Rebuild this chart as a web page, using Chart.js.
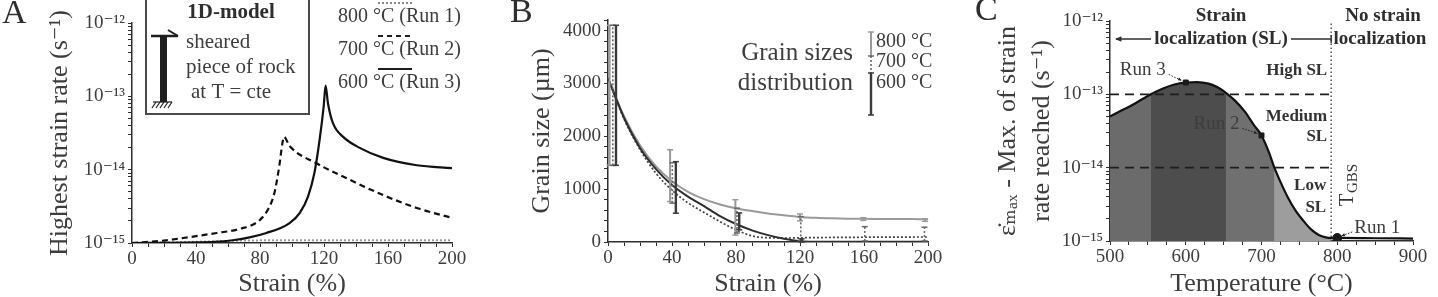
<!DOCTYPE html>
<html>
<head>
<meta charset="utf-8">
<script src="https://cdn.jsdelivr.net/npm/chart.js@4.4.1/dist/chart.umd.min.js"></script>
<style>
  html, body { margin: 0; padding: 0; background: #fff; }
  body { width: 1438px; height: 297px; position: relative; overflow: hidden; }
  canvas { position: absolute; top: 0; }
</style>
</head>
<body>
<canvas id="chartA" width="480" height="297" style="left:0px"></canvas>
<canvas id="chartB" width="470" height="297" style="left:480px"></canvas>
<canvas id="chartC" width="488" height="297" style="left:950px"></canvas>
<script>
// ---- Panel A: highest strain rate vs strain ----
const strainRun1 = [0, 40, 70, 100, 150, 200];
const rateRun1 = [1e-15, 1.04e-15, 1.08e-15, 1.09e-15, 1.09e-15, 1.09e-15];
const strainRun2 = [0, 20, 32, 53, 67, 80, 86, 89, 92, 94, 95, 98.5, 115, 136, 157, 178, 200];
const rateRun2 = [1e-15, 1.08e-15, 1.17e-15, 1.37e-15, 1.55e-15, 2.07e-15, 3.15e-15, 4.8e-15, 1.1e-14, 2.3e-14, 2.8e-14, 2.1e-14, 1.23e-14, 7.3e-15, 4.5e-15, 3e-15, 2.2e-15];
const strainRun3 = [0, 40, 63, 84, 98.5, 105, 110, 114, 117.3, 119.8, 121, 122.5, 125.6, 132, 142, 157, 178, 200];
const rateRun3 = [1e-15, 1.02e-15, 1.09e-15, 1.37e-15, 1.87e-15, 2.6e-15, 4.3e-15, 9e-15, 2.6e-14, 7.3e-14, 1.4e-13, 8e-14, 4.3e-14, 2.8e-14, 2e-14, 1.45e-14, 1.15e-14, 1.05e-14];
const runLabels = ['800 °C (Run 1)', '700 °C (Run 2)', '600 °C (Run 3)'];

// ---- Panel B: grain size vs strain ----
const strainB = [0, 10, 20, 30, 40, 50, 60, 70, 80, 90, 100, 110, 120, 130, 140, 150, 160, 170, 180, 190, 200];
const grain800 = [3100, 2380, 1830, 1430, 1150, 950, 810, 710, 640, 585, 540, 505, 475, 458, 448, 442, 438, 436, 434, 433, 432];
const grain700 = [3100, 2330, 1750, 1300, 980, 740, 560, 385, 230, 115, 80, 75, 80, 83, 86, 88, 90, 92, 93, 94, 95];
const grain600 = [3100, 2350, 1780, 1380, 1080, 860, 680, 490, 340, 220, 130, 60, 15, 5, 4, 4, 4, 4, 4, 4, 4];
// grain size distributions (error bars)
const err800X = [1, 38.8, 79.6, 120, 159.6, 198.2];
const err800Lo = [1450, 765, 130, 400, 410, 390];
const err800Hi = [4100, 1745, 800, 530, 460, 440];
const err700X = [3, 40.2, 80.6, 120.5, 160.5, 197.8];
const err700Lo = [1450, 735, 170, 30, 20, 20];
const err700Hi = [4100, 1500, 640, 480, 290, 280];
const err600X = [5, 42.4, 82, 121];
const err600Lo = [1450, 545, 230, 0];
const err600Hi = [4100, 1520, 550, 60];
const grainLegend = ['800 °C', '700 °C', '600 °C'];

// ---- Panel C: max strain rate vs temperature ----
const tempC = [500, 515, 530, 542, 554, 570, 585, 600, 615, 630, 642, 653, 665, 678, 690, 700, 710, 717, 725, 735, 745, 755, 765, 775, 785, 792, 800, 850, 900];
const maxRateC = [5.0e-14, 6.0e-14, 7.2e-14, 8.5e-14, 1.0e-13, 1.2e-13, 1.36e-13, 1.45e-13, 1.47e-13, 1.4e-13, 1.25e-13, 1.05e-13, 8.2e-14, 5.8e-14, 3.8e-14, 2.75e-14, 1.6e-14, 1.0e-14, 6.4e-15, 3.9e-15, 2.6e-15, 1.9e-15, 1.45e-15, 1.22e-15, 1.12e-15, 1.1e-15, 1.1e-15, 1.09e-15, 1.08e-15];
const bandEdges = [500, 554, 653, 717, 792];
const slThresholds = [1e-13, 1e-14];
const tGbs = 792;
const runTemps = [800, 700, 600];
const runRates = [1.1e-15, 2.75e-14, 1.45e-13];
const runNames = ['Run 1', 'Run 2', 'Run 3'];

// tick labels
const strainTickLabels = ['0', '40', '80', '120', '160', '200'];
const rateTickLabels = ['10⁻¹⁵', '10⁻¹⁴', '10⁻¹³', '10⁻¹²'];
const grainTickLabels = ['0', '1000', '2000', '3000', '4000'];
const tempTickLabels = ['500', '600', '700', '800', '900'];

const FONT = "'Liberation Serif', 'Times New Roman', 'DejaVu Serif', serif";
const INK = '#2e2e2e';
const SOFT = '#3d3d3d';
const bandColors = ['#6b6b6b', '#4d4d4d', '#707070', '#9d9d9d'];

function pts(xs, ys) {
    return xs.map((x, i) => ({ x: x, y: ys[i] }));
}

function ptsBetween(xs, ys, from, to) {
    return pts(xs, ys).filter(p => p.x >= from && p.x <= to);
}

function logTickValues() {
    const vals = [];
    for (let e = -15; e < -12; e++) {
        for (let m = 1; m < 10; m++) vals.push(m * Math.pow(10, e));
    }
    vals.push(1e-12);
    return vals;
}

function decadeLabel(v) {
    const e = Math.round(Math.log10(v));
    if (Math.abs(Math.log10(v) - e) > 1e-6) return '';
    return rateTickLabels[e + 15] || '';
}

function frameScale(o) {
    const s = {
        type: o.type || 'linear',
        min: o.min,
        max: o.max,
        border: { display: true, color: INK, width: 1.5 },
        grid: { display: true, drawOnChartArea: false, drawTicks: true, tickLength: 4, tickColor: INK, tickWidth: 1 },
        ticks: {
            color: SOFT,
            font: { family: FONT, size: 19, lineHeight: 1 },
            autoSkip: false,
            maxRotation: 0,
            padding: 3,
            callback: o.label
        },
        title: {
            display: true,
            text: o.title,
            color: SOFT,
            font: { family: FONT, size: 26, lineHeight: o.titleLH || 1 },
            padding: { top: o.titlePad || 0, bottom: 0 }
        },
        afterFit: (sc) => {
            if (o.width) sc.width = o.width;
            if (o.height) sc.height = o.height;
        }
    };
    if (o.step) s.ticks.stepSize = o.step;
    if (o.type === 'logarithmic') {
        s.afterBuildTicks = (sc) => { sc.ticks = logTickValues().map(v => ({ value: v })); };
    }
    return s;
}

function setFont(ctx, size, bold) {
    ctx.font = (bold ? 'bold ' : '') + size + 'px ' + FONT;
}

function write(ctx, str, x, y, size, align, bold, color) {
    setFont(ctx, size, bold);
    ctx.fillStyle = color || SOFT;
    ctx.textAlign = align || 'left';
    ctx.textBaseline = 'middle';
    ctx.fillText(str, x, y);
}

function seg(ctx, x0, y0, x1, y1) {
    ctx.beginPath();
    ctx.moveTo(x0, y0);
    ctx.lineTo(x1, y1);
    ctx.stroke();
}

function arrowHead(ctx, x0, y0, x1, y1, size) {
    const a = Math.atan2(y1 - y0, x1 - x0);
    ctx.beginPath();
    ctx.moveTo(x1, y1);
    ctx.lineTo(x1 - size * Math.cos(a - 0.4), y1 - size * Math.sin(a - 0.4));
    ctx.lineTo(x1 - size * Math.cos(a + 0.4), y1 - size * Math.sin(a + 0.4));
    ctx.closePath();
    ctx.fill();
}

function panelLetter(ctx, letter, x, baseline) {
    setFont(ctx, 34);
    ctx.fillStyle = INK;
    ctx.textAlign = 'left';
    ctx.textBaseline = 'alphabetic';
    ctx.fillText(letter, x, baseline);
}

// ---------------- Panel A ----------------
const panelAExtras = {
    id: 'panelAExtras',
    afterDraw(chart) {
        const ctx = chart.ctx;
        ctx.save();
        panelLetter(ctx, 'A', 2, 23);

        // inset box with the 1D model sketch
        ctx.strokeStyle = '#4a4a4a';
        ctx.lineWidth = 2;
        ctx.strokeRect(146, -4, 163, 118);
        write(ctx, '1D-model', 231, 13, 21, 'center', true, INK);
        write(ctx, 'sheared', 186, 42, 21, 'left');
        write(ctx, 'piece of rock', 186, 67, 21, 'left');
        write(ctx, 'at T = cte', 191, 92, 21, 'left');
        ctx.fillStyle = '#1e1e1e';
        ctx.fillRect(160, 37, 7, 65);
        ctx.strokeStyle = '#1e1e1e';
        ctx.lineWidth = 2.5;
        seg(ctx, 151, 36, 178, 36);
        ctx.lineWidth = 2;
        seg(ctx, 178, 36, 168, 30);
        ctx.lineWidth = 1.2;
        seg(ctx, 153, 102, 172, 102);
        for (let i = 0; i < 5; i++) seg(ctx, 156 + i * 4, 102, 152 + i * 4, 108);

        // legend
        const ly = [3, 36, 69];
        const ty = [17, 50, 83];
        const styles = [
            { color: '#8a8a8a', dash: [2, 2], width: 2 },
            { color: '#1e1e1e', dash: [5, 4], width: 2 },
            { color: '#1e1e1e', dash: [], width: 2 }
        ];
        for (let i = 0; i < 3; i++) {
            ctx.strokeStyle = styles[i].color;
            ctx.lineWidth = styles[i].width;
            ctx.setLineDash(styles[i].dash);
            seg(ctx, 378, ly[i], 412, ly[i]);
            ctx.setLineDash([]);
            write(ctx, runLabels[i], 338, ty[i], 20, 'left');
        }
        ctx.restore();
    }
};

new Chart(document.getElementById('chartA'), {
    type: 'line',
    data: {
        datasets: [
            {
                label: runLabels[2],
                data: pts(strainRun3, rateRun3),
                borderColor: '#111',
                borderWidth: 2.2,
                pointRadius: 0,
                cubicInterpolationMode: 'monotone'
            },
            {
                label: runLabels[1],
                data: pts(strainRun2, rateRun2),
                borderColor: '#111',
                borderWidth: 2.2,
                borderDash: [6, 4],
                pointRadius: 0,
                cubicInterpolationMode: 'monotone'
            },
            {
                label: runLabels[0],
                data: pts(strainRun1, rateRun1),
                borderColor: '#999',
                borderWidth: 2,
                borderDash: [2, 2],
                pointRadius: 0,
                cubicInterpolationMode: 'monotone'
            }
        ]
    },
    options: {
        responsive: false,
        animation: false,
        layout: { padding: { left: 0, top: 23, right: 28, bottom: 0 } },
        plugins: { legend: { display: false }, tooltip: { enabled: false } },
        scales: {
            x: frameScale({
                min: 0, max: 200, step: 10, height: 54, title: 'Strain (%)',
                label: (v) => (strainTickLabels.includes(String(v)) ? String(v) : '')
            }),
            y: frameScale({
                type: 'logarithmic', min: 1e-15, max: 1e-12, width: 132, titlePad: 47,
                title: 'Highest strain rate (s⁻¹)', label: decadeLabel
            })
        }
    },
    plugins: [panelAExtras]
});

// ---------------- Panel B ----------------
const errorSeries = [
    { xs: err800X, lo: err800Lo, hi: err800Hi, color: '#9a9a9a', width: 2, dash: [] },
    { xs: err700X, lo: err700Lo, hi: err700Hi, color: '#6a6a6a', width: 1.6, dash: [2, 2] },
    { xs: err600X, lo: err600Lo, hi: err600Hi, color: '#3a3a3a', width: 2.4, dash: [] }
];

const errorBars = {
    id: 'errorBars',
    afterDatasetsDraw(chart) {
        const ctx = chart.ctx;
        const xs = chart.scales.x;
        const ys = chart.scales.y;
        ctx.save();
        errorSeries.forEach(s => {
            s.xs.forEach((xv, i) => {
                const px = xs.getPixelForValue(xv);
                const p0 = ys.getPixelForValue(s.lo[i]);
                const p1 = ys.getPixelForValue(s.hi[i]);
                ctx.strokeStyle = s.color;
                ctx.lineWidth = s.width;
                ctx.setLineDash(s.dash);
                seg(ctx, px, p0, px, p1);
                ctx.setLineDash([]);
                ctx.lineWidth = 1.5;
                seg(ctx, px - 3, p0, px + 3, p0);
                seg(ctx, px - 3, p1, px + 3, p1);
            });
        });
        ctx.restore();
    }
};

const panelBExtras = {
    id: 'panelBExtras',
    afterDraw(chart) {
        const ctx = chart.ctx;
        ctx.save();
        panelLetter(ctx, 'B', 30, 22);
        write(ctx, 'Grain sizes', 373, 53, 25, 'right');
        write(ctx, 'distribution', 373, 83, 25, 'right');
        const bx = 391;
        const spans = [[32, 56], [56, 73], [73, 115]];
        const st = errorSeries;
        for (let i = 0; i < 3; i++) {
            ctx.strokeStyle = st[i].color;
            ctx.lineWidth = st[i].width;
            ctx.setLineDash(st[i].dash);
            seg(ctx, bx, spans[i][0], bx, spans[i][1]);
            ctx.setLineDash([]);
            ctx.lineWidth = 1.5;
            seg(ctx, bx - 3, spans[i][0], bx + 3, spans[i][0]);
            if (i === 2) seg(ctx, bx - 3, spans[i][1], bx + 3, spans[i][1]);
            write(ctx, grainLegend[i], bx + 5, [42, 62, 83][i], 20, 'left');
        }
        ctx.restore();
    }
};

new Chart(document.getElementById('chartB'), {
    type: 'line',
    data: {
        datasets: [
            {
                label: grainLegend[2],
                data: pts(strainB, grain600),
                borderColor: '#2e2e2e',
                borderWidth: 2,
                pointRadius: 0,
                cubicInterpolationMode: 'monotone'
            },
            {
                label: grainLegend[1],
                data: pts(strainB, grain700),
                borderColor: '#444',
                borderWidth: 1.7,
                borderDash: [2, 2],
                pointRadius: 0,
                cubicInterpolationMode: 'monotone'
            },
            {
                label: grainLegend[0],
                data: pts(strainB, grain800),
                borderColor: '#9a9a9a',
                borderWidth: 2,
                pointRadius: 0,
                cubicInterpolationMode: 'monotone'
            }
        ]
    },
    options: {
        responsive: false,
        animation: false,
        layout: { padding: { left: 0, top: 20, right: 22, bottom: 0 } },
        plugins: { legend: { display: false }, tooltip: { enabled: false } },
        scales: {
            x: frameScale({
                min: 0, max: 200, step: 10, height: 55, title: 'Strain (%)',
                label: (v) => (strainTickLabels.includes(String(v)) ? String(v) : '')
            }),
            y: frameScale({
                min: 0, max: 4200, step: 200, width: 128, titlePad: 49,
                title: 'Grain size (µm)',
                label: (v) => (grainTickLabels.includes(String(v)) ? String(v) : '')
            })
        }
    },
    plugins: [errorBars, panelBExtras]
});

// ---------------- Panel C ----------------
const panelCExtras = {
    id: 'panelCExtras',
    afterDraw(chart) {
        const ctx = chart.ctx;
        const xs = chart.scales.x;
        const ys = chart.scales.y;
        const xL = xs.getPixelForValue(500);
        const xT = xs.getPixelForValue(tGbs);
        ctx.save();
        panelLetter(ctx, 'C', 25, 20);

        write(ctx, 'Strain', 271, 16, 19, 'center', true, INK);
        write(ctx, 'localization (SL)', 271, 39, 19, 'center', true, INK);
        write(ctx, 'No strain', 433, 16, 19, 'center', true, INK);
        write(ctx, 'localization', 430, 39, 19, 'center', true, INK);
        ctx.strokeStyle = INK;
        ctx.fillStyle = INK;
        ctx.lineWidth = 1.4;
        seg(ctx, xL + 6, 39, 201, 39);
        arrowHead(ctx, 201, 39, xL + 5, 39, 7);
        seg(ctx, 341, 39, xT, 39);
        seg(ctx, xT, 35, xT, 43);

        write(ctx, 'High SL', xT - 4, 71, 17, 'right', true, '#333');
        write(ctx, 'Medium', xT - 4, 117, 17, 'right', true, '#333');
        write(ctx, 'SL', xT - 4, 137, 17, 'right', true, '#333');
        write(ctx, 'Low', xT - 5, 186, 17, 'right', true, '#333');
        write(ctx, 'SL', xT - 5, 208, 17, 'right', true, '#333');

        // T_GBS, rotated
        ctx.save();
        ctx.translate(xT + 17, 206);
        ctx.rotate(-Math.PI / 2);
        write(ctx, 'T', 0, 0, 20, 'left', false, '#333');
        write(ctx, 'GBS', 13, 5, 15, 'left', false, '#333');
        ctx.restore();

        // run annotations
        const offs = [{ dx: 17, dy: -10, align: 'left' }, { dx: -22, dy: -11, align: 'right' }, { dx: -20, dy: -12, align: 'right' }];
        for (let i = 0; i < 3; i++) {
            const px = xs.getPixelForValue(runTemps[i]);
            const py = ys.getPixelForValue(runRates[i]);
            const o = offs[i];
            write(ctx, runNames[i], px + o.dx, py + o.dy, 19, o.align);
            const sx = px + (o.dx > 0 ? o.dx - 2 : o.dx + 3);
            const sy = py + o.dy + 4;
            const ex = px + (o.dx > 0 ? 4 : -4);
            const ey = py - 2;
            ctx.strokeStyle = '#222';
            ctx.fillStyle = '#222';
            ctx.lineWidth = 1;
            ctx.setLineDash([1.5, 1.5]);
            seg(ctx, sx, sy, ex, ey);
            ctx.setLineDash([]);
            arrowHead(ctx, sx, sy, ex, ey, 4);
        }
        ctx.restore();
    }
};

// shaded temperature bands, layered so that neighbouring fills overlap
function bandLayer(from, to, color) {
    return {
        label: 'band ' + from + '-' + to,
        data: ptsBetween(tempC, maxRateC, from, to),
        borderColor: 'rgba(0,0,0,0)',
        borderWidth: 0,
        pointRadius: 0,
        cubicInterpolationMode: 'monotone',
        fill: 'start',
        backgroundColor: color
    };
}

new Chart(document.getElementById('chartC'), {
    type: 'line',
    data: {
        datasets: [
            {
                label: 'Runs',
                data: pts(runTemps, runRates),
                showLine: false,
                pointStyle: ['circle', 'rect', 'rect'],
                pointRadius: [4.5, 3.5, 3.5],
                pointBackgroundColor: '#1a1a1a',
                pointBorderColor: '#1a1a1a'
            },
            {
                label: 'High SL threshold',
                data: pts([500, tGbs], [slThresholds[0], slThresholds[0]]),
                borderColor: '#1e1e1e',
                borderWidth: 1.6,
                borderDash: [9, 6],
                pointRadius: 0
            },
            {
                label: 'Low SL threshold',
                data: pts([500, tGbs], [slThresholds[1], slThresholds[1]]),
                borderColor: '#1e1e1e',
                borderWidth: 1.6,
                borderDash: [9, 6],
                pointRadius: 0
            },
            {
                label: 'T GBS',
                data: pts([tGbs, tGbs], [1e-15, 1e-12]),
                borderColor: '#555',
                borderWidth: 1.5,
                borderDash: [1.5, 2.5],
                pointRadius: 0
            },
            {
                label: 'Max strain rate',
                data: pts(tempC, maxRateC),
                borderColor: '#111',
                borderWidth: 2.2,
                pointRadius: 0,
                cubicInterpolationMode: 'monotone'
            },
            bandLayer(bandEdges[0], bandEdges[1], bandColors[0]),
            bandLayer(bandEdges[1], bandEdges[2], bandColors[1]),
            bandLayer(bandEdges[0], bandEdges[3], bandColors[2]),
            bandLayer(bandEdges[0], bandEdges[4], bandColors[3])
        ]
    },
    options: {
        responsive: false,
        animation: false,
        layout: { padding: { left: 0, top: 21, right: 25, bottom: 0 } },
        plugins: { legend: { display: false }, tooltip: { enabled: false } },
        scales: {
            x: frameScale({
                min: 500, max: 900, step: 25, height: 56, title: 'Temperature (°C)',
                label: (v) => (tempTickLabels.includes(String(v)) ? String(v) : '')
            }),
            y: frameScale({
                type: 'logarithmic', min: 1e-15, max: 1e-12, width: 160, titlePad: 41, titleLH: 1.3,
                title: ['ε̇ₘₐₓ - Max. of strain', 'rate reached (s⁻¹)'], label: decadeLabel
            })
        }
    },
    plugins: [panelCExtras]
});
</script>
</body>
</html>
